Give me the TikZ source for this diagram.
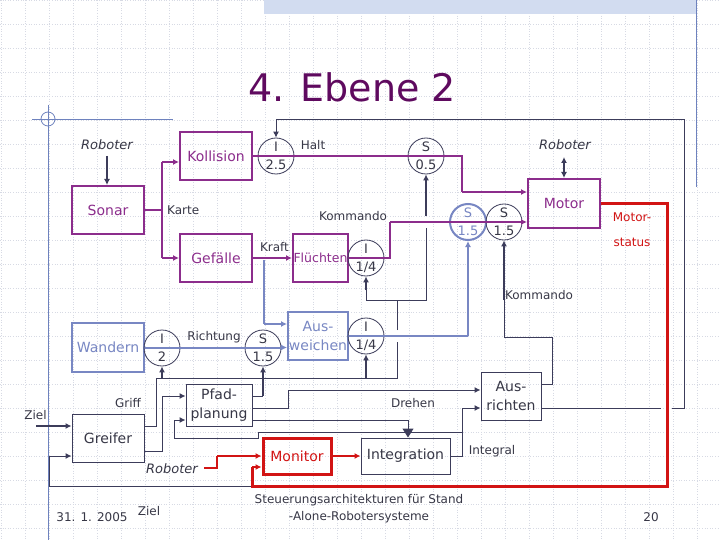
\documentclass[tikz,border=0pt]{standalone}
\usepackage{fontspec}
\setmainfont{DejaVu Sans}
\usetikzlibrary{arrows.meta}
\definecolor{purp}{RGB}{140,45,140}
\definecolor{blu}{RGB}{120,135,195}
\definecolor{dark}{RGB}{60,60,90}
\definecolor{dtext}{RGB}{55,55,70}
\definecolor{redc}{RGB}{210,20,20}
\definecolor{titlec}{RGB}{95,10,95}
\definecolor{gridc}{RGB}{215,218,228}
\definecolor{decor}{RGB}{110,130,190}
\definecolor{bandc}{RGB}{210,220,240}
\tikzset{
  boxtext/.style={font=\fontsize{14}{19.5}\selectfont, align=center, inner sep=0pt},
  pbox/.style={boxtext, draw=purp, line width=2pt, text=purp},
  bbox/.style={boxtext, draw=blu, line width=2pt, text=blu},
  dbox/.style={boxtext, draw=dark, line width=1pt, text=dtext},
  rbox/.style={boxtext, draw=redc, line width=3pt, text=redc},
  circ/.style={circle, draw=dark, line width=0.8pt, minimum size=36pt, inner sep=0pt},
  bcirc/.style={circle, draw=blu, line width=2pt, minimum size=36pt, inner sep=0pt},
  ct/.style={font=\fontsize{13}{15}\selectfont, text=dtext, inner sep=0pt},
  bct/.style={font=\fontsize{13}{15}\selectfont, text=blu, inner sep=0pt},
  lab/.style={font=\fontsize{12}{14}\selectfont, text=dtext, inner sep=0pt},
  rob/.style={font=\itshape\fontsize{13}{15}\selectfont, text=dtext, inner sep=0pt},
  pl/.style={draw=purp, line width=2pt},
  bl/.style={draw=blu, line width=2pt},
  blthin/.style={draw=blu, line width=1.5pt},
  dl/.style={draw=dark, line width=1pt},
  dlt/.style={draw=dark, line width=1.8pt},
  rl/.style={draw=redc, line width=3pt},
  rlm/.style={draw=redc, line width=2pt},
  arr/.style={-{Latex[length=6pt,width=6pt]}},
  bigarr/.style={-{Triangle[length=9pt,width=11pt]}},
  dblarr/.style={{Latex[length=6pt,width=6pt]}-{Latex[length=6pt,width=6pt]}}
}
\begin{document}
\begin{tikzpicture}[x=1pt,y=-1pt]
\useasboundingbox (0,0) rectangle (720,540);
\fill[white] (0,0) rectangle (720,540);
% grid
\foreach \x in {1,25,...,697} \draw[gridc, line width=0.6pt, dotted] (\x,0) -- (\x,540);
\foreach \y in {0,24,...,528} \draw[gridc, line width=0.6pt, dotted] (0,\y) -- (720,\y);
% decoration
\fill[bandc] (264,0) rectangle (696,14);
\draw[decor, line width=0.8pt] (696,0) -- (696,187);
\draw[decor, line width=0.8pt] (32,119) -- (173,119);
\draw[decor, line width=0.8pt] (48,105) -- (48,540);
\draw[decor, line width=0.8pt] (48,119) circle (7pt);
% title
\node[font=\fontsize{38}{46}\selectfont, text=titlec, inner sep=0pt] (title) at (352,87) {4. Ebene 2};

% boxes
\node[pbox, minimum width=72pt, minimum height=48pt] (sonar) at (108,210) {Sonar};
\node[pbox, minimum width=72pt, minimum height=48pt] (kollision) at (216,156) {Kollision};
\node[pbox, minimum width=72pt, minimum height=48pt] (gefaelle) at (216,258) {Gefälle};
\node[pbox, minimum width=55pt, minimum height=48pt, font=\fontsize{12.5}{15}\selectfont] (fluechten) at (320.5,258) {Flüchten};
\node[pbox, minimum width=72pt, minimum height=49pt] (motor) at (564,203.5) {Motor};
\node[bbox, minimum width=72pt, minimum height=49pt] (wandern) at (108,347.5) {Wandern};
\node[bbox, minimum width=60pt, minimum height=48pt] (ausweichen) at (318,336) {Aus-\\weichen};
\node[dbox, minimum width=72pt, minimum height=48pt] (greifer) at (108,438) {Greifer};
\node[dbox, minimum width=66pt, minimum height=42pt] (pfad) at (219,405) {Pfad-\\planung};
\node[rbox, minimum width=68pt, minimum height=36pt] (monitor) at (297,456) {Monitor};
\node[dbox, minimum width=89pt, minimum height=36pt] (integration) at (405.5,456) {Integration};
\node[dbox, minimum width=60pt, minimum height=48pt] (ausrichten) at (511,396) {Aus-\\richten};

% circles
\node[circ] (c25) at (276,156) {};
\node[circ] (c05) at (426,156) {};
\node[circ] (cq1) at (366,258) {};
\node[circ] (cq2) at (366,336) {};
\node[bcirc] (cs15b) at (468,222) {};
\node[circ] (cs15d) at (504,222) {};
\node[circ] (ci2) at (162,348) {};
\node[circ] (cs15r) at (263,348) {};

% labels
\node[rob] (rob1) at (107,145) {Roboter};
\node[rob] (rob2) at (565,145) {Roboter};
\node[rob] (rob3) at (172,469) {Roboter};
\node[lab, anchor=west] (karte) at (167,210) {Karte};
\node[lab] (halt) at (313,145) {Halt};
\node[lab] (kraft) at (274.5,247) {Kraft};
\node[lab] (komm1) at (353,216) {Kommando};
\node[lab] (komm2) at (539,295) {Kommando};
\node[lab] (richtung) at (214,337) {Richtung};
\node[lab] (griff) at (128,403) {Griff};
\node[lab] (ziel1) at (35.5,415) {Ziel};
\node[lab] (drehen) at (413,403) {Drehen};
\node[lab] (integral) at (492,451) {Integral};
\node[lab, text=redc] (mstat1) at (632,217) {Motor-};
\node[lab, text=redc] (mstat2) at (632,242) {status};
\node[lab] (datum) at (92,517) {31. 1. 2005};
\node[lab] (ziel2) at (149,511) {Ziel};
\node[lab] (fuss1) at (359,500) {Steuerungsarchitekturen für Stand};
\node[lab] (fuss2) at (359,517) {-Alone-Robotersysteme};
\node[lab] (seite) at (651,517) {20};

% coordinates
\coordinate (sj) at (162,210);
\coordinate (sjt) at (162,162);
\coordinate (sjb) at (162,258);
\coordinate (h1) at (462,156);
\coordinate (h2) at (462,192);
\coordinate (f1) at (390,258);
\coordinate (f2) at (390,222);
\coordinate (kr) at (264,260);
\coordinate (kr2) at (264,324);
\coordinate (a1) at (468,336);
\coordinate (t1) at (661,408);
\coordinate (t2) at (672,408);
\coordinate (t3) at (684,408);
\coordinate (t4) at (684,120);
\coordinate (t5) at (276,120);
\coordinate (k1) at (552,384);
\coordinate (k2) at (552,337);
\coordinate (k3) at (504,337);
\coordinate (k4) at (504,300);
\coordinate (g1) at (156,426);
\coordinate (g2) at (156,378);
\coordinate (g3) at (397,378);
\coordinate (g3a) at (397,342);
\coordinate (g3b) at (397,330);
\coordinate (g4) at (397,300);
\coordinate (g5) at (366,300);
\coordinate (g5a) at (366,290);
\coordinate (g6) at (426,300);
\coordinate (g6a) at (426,228);
\coordinate (g6b) at (426,216);
\coordinate (p1) at (162,451);
\coordinate (p2) at (162,396);
\coordinate (q1) at (263,396);
\coordinate (d1) at (288,408);
\coordinate (d2) at (288,390);
\coordinate (i1) at (408,420);
\coordinate (n1) at (462,456);
\coordinate (n2) at (462,408);
\coordinate (b1) at (462,432);
\coordinate (b2) at (258,432);
\coordinate (b3) at (258,438);
\coordinate (b4) at (174,438);
\coordinate (b5) at (174,420);
\coordinate (z1) at (36,426);
\coordinate (e1) at (252,486);
\coordinate (e2) at (49,486);
\coordinate (e3) at (49,456);
\coordinate (m1) at (667,204);
\coordinate (m2) at (667,486);
\coordinate (m3) at (252,486);
\coordinate (m4) at (252,467);
\coordinate (r1) at (204,468);
\coordinate (r2) at (217,468);
\coordinate (r3) at (217,456);
\coordinate (ro1) at (107,156);
\coordinate (ro2) at (564,157);

% blue connectors
\draw[blthin] (kr) -- (kr2);
\draw[blthin, arr] (kr2) -- (kr2 -| ausweichen.west);
\draw[bl, arr] (wandern.east) -- (wandern.east -| ausweichen.west);
\draw[bl] (ausweichen.east) -- (a1);
\draw[bl, arr] (a1) -- (cs15b.south);

% purple connectors
\draw[pl] (sonar.east) -- (sj);
\draw[pl] (sjt) -- (sjb);
\draw[pl, arr] (sjt) -- (sjt -| kollision.west);
\draw[pl, arr] (sjb) -- (gefaelle.west);
\draw[pl] (kollision.east) -- (h1) -- (h2);
\draw[pl, arr] (h2) -- (h2 -| motor.west);
\draw[pl, arr] (gefaelle.east) -- (fluechten.west);
\draw[pl] (fluechten.east) -- (f1) -- (f2);
\draw[pl, arr] (f2) -- (f2 -| motor.west);

% dark connectors
\draw[dlt, arr] (ro1) -- (ro1 |- sonar.north);
\draw[dlt, dblarr] (ro2) -- (ro2 |- motor.north);
\draw[dl] (ausrichten.east |- t1) -- (t1);
\draw[dl, arr] (t2) -- (t3) -- (t4) -- (t5) -- (c25.north);
\draw[dl] (ausrichten.east |- k1) -- (k1) -- (k2) -- (k3) -- (k4);
\draw[dlt, arr] (k4) -- (cs15d.south);
\draw[dl] (greifer.east |- g1) -- (g1) -- (g2) -- (g3) -- (g3a);
\draw[dl] (g3b) -- (g4) -- (g5) -- (g5a);
\draw[dlt, arr] (g5a) -- (cq1.south);
\draw[dl] (g4) -- (g6) -- (g6a);
\draw[dlt, arr] (g6b) -- (c05.south);
\draw[dlt, arr] (ci2.south |- g2) -- (ci2.south);
\draw[dlt, arr] (cq2.south |- g3) -- (cq2.south);
\draw[dl] (greifer.east |- p1) -- (p1) -- (p2);
\draw[dl, arr] (p2) -- (p2 -| pfad.west);
\draw[dl] (pfad.east |- q1) -- (q1);
\draw[dlt, arr] (q1) -- (cs15r.south);
\draw[dl] (pfad.east |- d1) -- (d1) -- (d2);
\draw[dl, arr] (d2) -- (d2 -| ausrichten.west);
\draw[dl] (pfad.east |- i1) -- (i1);
\draw[dl, bigarr] (i1) -- (i1 |- integration.north);
\draw[dl] (integration.east) -- (n1) -- (n2);
\draw[dl, arr] (n2) -- (n2 -| ausrichten.west);
\draw[dl, arr] (b1) -- (b2) -- (b3) -- (b4) -- (b5) -- (b5 -| pfad.west);
\draw[dlt, arr] (z1) -- (z1 -| greifer.west);
\draw[dl] (e1) -- (e2) -- (e3);
\draw[dl, arr] (e3) -- (e3 -| greifer.west);

% red connectors
\draw[rl] (motor.east |- m1) -- (m1) -- (m2) -- (m3) -- (m4);
\draw[rlm, arr] (m4) -- (m4 -| monitor.west);
\draw[rlm] (r1) -- (r2) -- (r3);
\draw[rlm, arr] (r3) -- (monitor.west);
\draw[rlm, arr] (monitor.east) -- (integration.west);

% circle texts
\node[ct] (c25a) at ([yshift=9pt]c25.center) {I};
\node[ct] (c25b) at ([yshift=-9pt]c25.center) {2.5};
\node[ct] (c05a) at ([yshift=9pt]c05.center) {S};
\node[ct] (c05b) at ([yshift=-9pt]c05.center) {0.5};
\node[ct] (cq1a) at ([yshift=9pt]cq1.center) {I};
\node[ct] (cq1b) at ([yshift=-9pt]cq1.center) {1/4};
\node[ct] (cq2a) at ([yshift=9pt]cq2.center) {I};
\node[ct] (cq2b) at ([yshift=-9pt]cq2.center) {1/4};
\node[bct] (cs15ba) at ([yshift=9pt]cs15b.center) {S};
\node[bct] (cs15bb) at ([yshift=-9pt]cs15b.center) {1.5};
\node[ct] (cs15da) at ([yshift=9pt]cs15d.center) {S};
\node[ct] (cs15db) at ([yshift=-9pt]cs15d.center) {1.5};
\node[ct] (ci2a) at ([yshift=9pt]ci2.center) {I};
\node[ct] (ci2b) at ([yshift=-9pt]ci2.center) {2};
\node[ct] (cs15ra) at ([yshift=9pt]cs15r.center) {S};
\node[ct] (cs15rb) at ([yshift=-9pt]cs15r.center) {1.5};
\end{tikzpicture}
\end{document}
